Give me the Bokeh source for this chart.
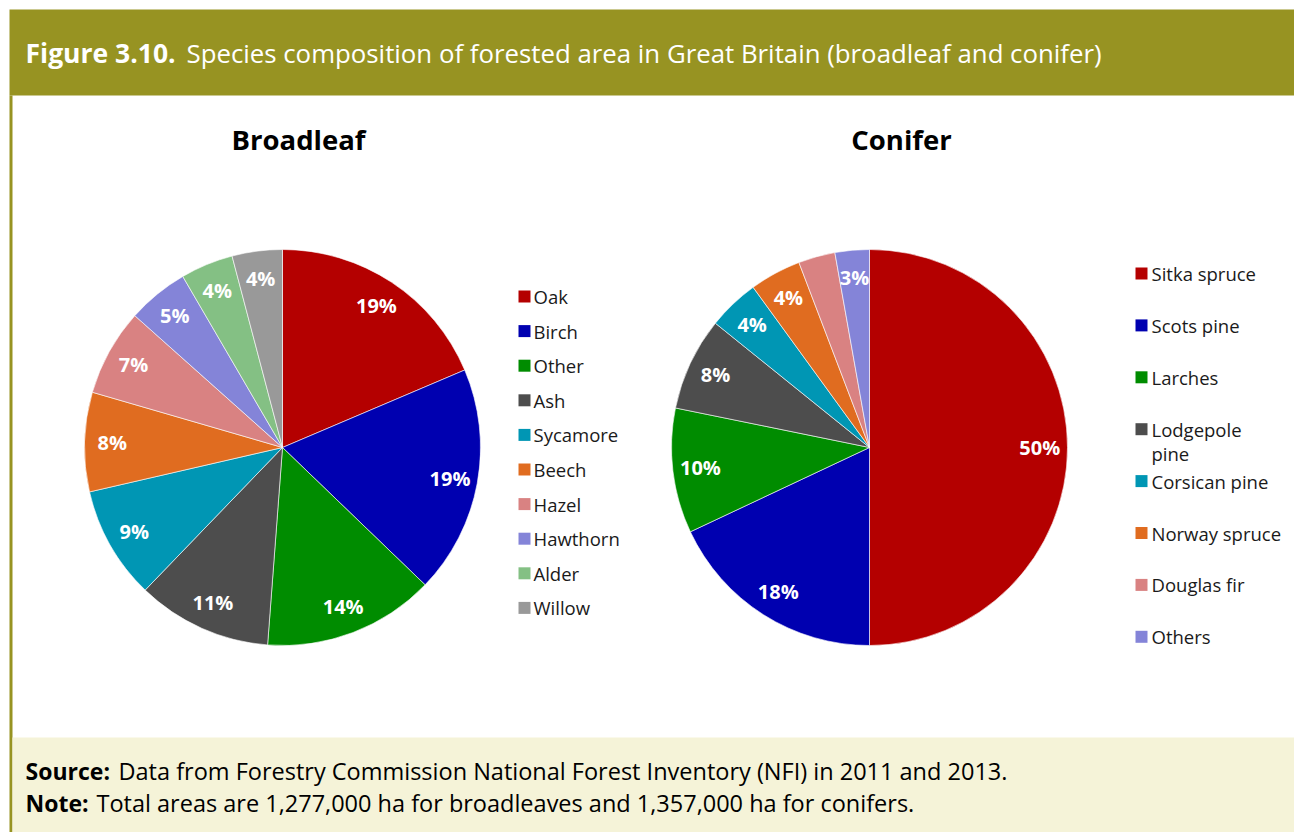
import numpy as np
from bokeh.plotting import figure
from bokeh.models import Range1d, ColumnDataSource
from bokeh.core.properties import value
from bokeh.embed import file_html
from bokeh.resources import INLINE

# ---------------- data ----------------
title_bold = "Figure 3.10."
title_rest = "Species composition of forested area in Great Britain (broadleaf and conifer)"

broadleaf_species = ["Oak", "Birch", "Other", "Ash", "Sycamore", "Beech", "Hazel", "Hawthorn", "Alder", "Willow"]
broadleaf_share = [18.6, 18.6, 14.0, 11.0, 9.2, 8.1, 7.1, 5.0, 4.3, 4.1]
broadleaf_colors = ["#b40000", "#0000b0", "#008c00", "#4d4d4d", "#0096b4",
                    "#e06c20", "#d98282", "#8484d8", "#84c084", "#999999"]

conifer_species = ["Sitka spruce", "Scots pine", "Larches", "Lodgepole pine", "Corsican pine",
                   "Norway spruce", "Douglas fir", "Others"]
conifer_share = [50.0, 18.0, 10.2, 7.6, 4.2, 4.2, 3.0, 2.8]
conifer_show_label = [True, True, True, True, True, True, False, True]
conifer_colors = ["#b40000", "#0000b0", "#008c00", "#4d4d4d", "#0096b4",
                  "#e06c20", "#d98282", "#8484d8"]

source_bold = "Source:"
source_rest = "Data from Forestry Commission National Forest Inventory (NFI) in 2011 and 2013."
note_bold = "Note:"
note_rest = "Total areas are 1,277,000 ha for broadleaves and 1,357,000 ha for conifers."

# ---------------- layout ----------------
W, H = 1294, 832
FONT = "Open Sans"
OLIVE = "#979322"
CREAM = "#f5f3d8"


def X(rx):
    return rx


def Y(ry):
    return H - ry


p = figure(width=W, height=H, x_range=Range1d(0, W), y_range=Range1d(0, H),
           output_backend="svg", toolbar_location=None, min_border=0)
p.axis.visible = False
p.grid.visible = False
p.outline_line_color = None
p.background_fill_color = "white"
p.border_fill_color = "white"

# header band, left border, footer
p.quad(left=[X(9)], right=[W], top=[Y(9)], bottom=[Y(95)], fill_color=OLIVE, line_color=None)
p.quad(left=[X(9)], right=[X(12)], top=[Y(95)], bottom=[0], fill_color=OLIVE, line_color=None)
p.quad(left=[X(12)], right=[W], top=[Y(737)], bottom=[0], fill_color=CREAM, line_color=None)

# title
p.text(x=[X(25)], y=[Y(52)], text=[title_bold], text_color="white", text_font=value(FONT),
       text_font_style="bold", text_font_size="26.5px", text_baseline="middle", text_align="left")
p.text(x=[X(186)], y=[Y(52)], text=[title_rest], text_color="white", text_font=value(FONT),
       text_font_size="25.8px", text_baseline="middle", text_align="left")


def pie(cx, cy, r, shares, colors, labels):
    s = np.array(shares, dtype=float)
    frac = s / s.sum()
    cum = np.cumsum(frac)
    start = cum - frac
    src = ColumnDataSource(dict(
        start=np.pi / 2 - 2 * np.pi * cum,
        end=np.pi / 2 - 2 * np.pi * start,
        color=colors,
    ))
    p.wedge(x=cx, y=cy, radius=r, start_angle="start", end_angle="end", fill_color="color",
            line_color="white", line_width=0.6, source=src)
    mid = np.pi / 2 - 2 * np.pi * (start + frac / 2)
    lr = r * 0.86
    lsrc = ColumnDataSource(dict(x=cx + lr * np.cos(mid), y=cy + lr * np.sin(mid), t=labels))
    p.text(x="x", y="y", text="t", source=lsrc, text_color="white", text_font=value(FONT),
           text_font_style="bold", text_font_size="20px", text_align="center",
           text_baseline="middle")


bl_labels = [f"{round(v):.0f}%" for v in broadleaf_share]
cf_labels = [f"{round(v):.0f}%" if show else "" for v, show in zip(conifer_share, conifer_show_label)]

pie(X(282), Y(447), 198, broadleaf_share, broadleaf_colors, bl_labels)
pie(X(869), Y(447), 198, conifer_share, conifer_colors, cf_labels)

# pie titles
p.text(x=[X(298), X(901)], y=[Y(139), Y(139)], text=["Broadleaf", "Conifer"], text_color="black",
       text_font=value(FONT), text_font_style="bold", text_font_size="27.5px",
       text_align="center", text_baseline="middle")


# legends
def legend(sx, tx, y0, step, names, colors, size="18.5px"):
    ys = [Y(y0 + i * step) for i in range(len(names))]
    p.rect(x=[X(sx)] * len(names), y=ys, width=12, height=12, fill_color=colors, line_color=None)
    texts, tys = [], []
    for n, yy in zip(names, ys):
        if n == "Lodgepole pine":
            texts += ["Lodgepole", "pine"]
            tys += [yy, yy - 24]
        else:
            texts.append(n)
            tys.append(yy)
    p.text(x=[X(tx)] * len(texts), y=tys, text=texts, text_color="#1a1a1a", text_font=value(FONT),
           text_font_size=size, text_align="left", text_baseline="middle")


legend(524, 533, 296, 34.6, broadleaf_species, broadleaf_colors)
legend(1141, 1151, 273, 51.9, conifer_species, conifer_colors)

# footer
for yy, b, rest, rx in [(770, source_bold, source_rest, 118), (802, note_bold, note_rest, 96)]:
    p.text(x=[X(25)], y=[Y(yy)], text=[b], text_color="black", text_font=value(FONT),
           text_font_style="bold", text_font_size="23px", text_baseline="middle", text_align="left")
    p.text(x=[X(rx)], y=[Y(yy)], text=[rest], text_color="black", text_font=value(FONT),
           text_font_size="23.5px", text_baseline="middle", text_align="left")

open("out.html", "w").write(file_html(p, INLINE))
